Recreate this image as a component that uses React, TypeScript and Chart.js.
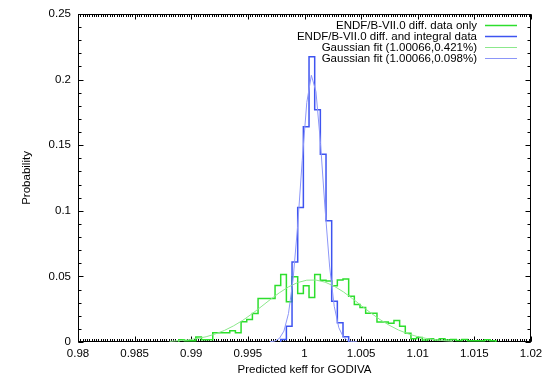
import { useEffect, useRef } from 'react';
import { Chart, registerables } from 'chart.js';

Chart.register(...registerables);

// ---------- data ----------
const X_MIN = 0.98;
const X_MAX = 1.02;
const Y_MIN = 0;
const Y_MAX = 0.25;
const xTickValues = [0.98, 0.985, 0.99, 0.995, 1, 1.005, 1.01, 1.015, 1.02];
const yTickValues = [0, 0.05, 0.1, 0.15, 0.2, 0.25];
const xTitle = 'Predicted keff for GODIVA';
const yTitle = 'Probability';
const seriesLabels = [
  'ENDF/B-VII.0 diff. data only',
  'ENDF/B-VII.0 diff. and integral data',
  'Gaussian fit (1.00066,0.421%)',
  'Gaussian fit (1.00066,0.098%)',
];

const BIN_WIDTH = 0.0005;

// histogram 1 (green): first bin start + probabilities per bin
const greenFirstBin = 0.9889;
const greenProb = [
  0.0018, 0.001, 0.001, 0.0038, 0.0018, 0.0018, 0.007, 0.007, 0.007, 0.0086,
  0.007, 0.0154, 0.0172, 0.0217, 0.0331, 0.0331, 0.0331, 0.043, 0.0515, 0.0306,
  0.0498, 0.037, 0.0428, 0.034, 0.0515, 0.047, 0.0465, 0.0428, 0.0472, 0.048,
  0.0348, 0.0285, 0.0262, 0.022, 0.022, 0.0152, 0.0152, 0.0143, 0.0163, 0.012,
  0.0066, 0.0025, 0.0035, 0.0015, 0.0025, 0.0015, 0.0025, 0.0015, 0.002, 0.0012,
  0.002, 0.001, 0.001, 0.001, 0.0018, 0.001,
];

// histogram 2 (blue)
const blueFirstBin = 0.9979;
const blueProb = [0.002, 0.012, 0.061, 0.1025, 0.164, 0.2174, 0.177, 0.143, 0.0924, 0.031, 0.0146, 0.004];

const greenFitX = [
  0.988081, 0.988889, 0.989697, 0.990505, 0.991313, 0.992121, 0.992929, 0.993737,
  0.994545, 0.995354, 0.996162, 0.99697, 0.997778, 0.998586, 0.999394, 1.000202,
  1.00101, 1.001818, 1.002626, 1.003434, 1.004242, 1.005051, 1.005859, 1.006667,
  1.007475, 1.008283, 1.009091, 1.009899, 1.010707, 1.011515, 1.012323, 1.013131,
];
const greenFitY = [
  0.0005, 0.001, 0.0016, 0.0026, 0.004, 0.0061, 0.0088, 0.0123,
  0.0165, 0.0214, 0.0268, 0.0323, 0.0375, 0.042, 0.0453, 0.0471,
  0.0472, 0.0456, 0.0425, 0.0382, 0.033, 0.0275, 0.0221, 0.0171,
  0.0128, 0.0092, 0.0064, 0.0043, 0.0028, 0.0017, 0.001, 0.0006,
];
const blueFitX = [
  0.99697, 0.997374, 0.997778, 0.998182, 0.998586, 0.99899, 0.999394, 0.999798,
  1.000202, 1.000606, 1.00101, 1.001414, 1.001818, 1.002222, 1.002626, 1.00303,
  1.003434, 1.003838, 1.004242, 1.004646,
];
const blueFitY = [
  0.0002, 0.0007, 0.0027, 0.0083, 0.0217, 0.0476, 0.0883, 0.1382,
  0.1825, 0.2032, 0.1909, 0.1514, 0.1012, 0.0571, 0.0272, 0.0109,
  0.0037, 0.0011, 0.0003, 0.0001,
];

// ---------- styles ----------
const FONT = "'Liberation Sans', Arial, Helvetica, sans-serif";
const FONT_SIZE = 11.5;
const COLORS = ['rgb(45,222,45)', 'rgb(62,84,240)', 'rgb(140,232,140)', 'rgb(140,150,248)'];
const WIDTHS = [1.5, 1.5, 1, 1];

function histPoints(first: number, probs: number[]) {
  const pts: { x: number; y: number }[] = [];
  const edge = (k: number) => +(first + k * BIN_WIDTH).toFixed(6);
  pts.push({ x: edge(0), y: 0 });
  probs.forEach((p, k) => pts.push({ x: edge(k), y: p }));
  pts.push({ x: edge(probs.length), y: 0 });
  return pts;
}

const zip = (xs: number[], ys: number[]) => xs.map((x, i) => ({ x, y: ys[i] }));

const framePlugin = {
  id: 'gpFrame',
  beforeDatasetsDraw(chart: any) {
    const { ctx, chartArea: a, scales } = chart;
    const xs = scales.x;
    const ys = scales.y;
    const L = Math.round(a.left) + 0.5;
    const R = Math.round(a.right) - 0.5;
    const T = Math.round(a.top) + 0.5;
    const B = Math.round(a.bottom) - 0.5;
    ctx.save();
    ctx.strokeStyle = '#000';
    ctx.lineWidth = 1;
    ctx.beginPath();
    for (let k = 0; k <= 200; k++) {
      const v = X_MIN + k * 0.0002;
      const px = Math.round(xs.getPixelForValue(v)) + 0.5;
      ctx.moveTo(px, B); ctx.lineTo(px, B - 2.5);
      ctx.moveTo(px, T); ctx.lineTo(px, T + 2.5);
    }
    xTickValues.forEach((v) => {
      const px = Math.round(xs.getPixelForValue(v)) + 0.5;
      ctx.moveTo(px, B); ctx.lineTo(px, B - 5);
      ctx.moveTo(px, T); ctx.lineTo(px, T + 5);
    });
    for (let k = 0; k <= 25; k++) {
      const v = Y_MIN + k * 0.01;
      const py = Math.round(ys.getPixelForValue(v)) + 0.5;
      ctx.moveTo(L, py); ctx.lineTo(L + 3, py);
      ctx.moveTo(R, py); ctx.lineTo(R - 3, py);
    }
    yTickValues.forEach((v) => {
      const py = Math.round(ys.getPixelForValue(v)) + 0.5;
      ctx.moveTo(L, py); ctx.lineTo(L + 5, py);
      ctx.moveTo(R, py); ctx.lineTo(R - 5, py);
    });
    ctx.stroke();
    ctx.strokeRect(L, T, R - L, B - T);
    ctx.restore();
  },
};

const legendPlugin = {
  id: 'gpLegend',
  afterDraw(chart: any) {
    const { ctx, chartArea: a } = chart;
    ctx.save();
    ctx.font = `${FONT_SIZE}px ${FONT}`;
    ctx.textAlign = 'right';
    ctx.textBaseline = 'middle';
    chart.data.datasets.forEach((ds: any, i: number) => {
      const y = a.top + 11.5 + i * 11;
      ctx.fillStyle = '#000';
      ctx.fillText(ds.label, a.right - 54, y);
      ctx.strokeStyle = ds.borderColor;
      ctx.lineWidth = ds.borderWidth;
      ctx.beginPath();
      ctx.moveTo(a.right - 46, Math.round(y) + 0.5);
      ctx.lineTo(a.right - 14, Math.round(y) + 0.5);
      ctx.stroke();
    });
    ctx.restore();
  },
};

const fmt = (v: any) => String(+(+v).toFixed(4));

export default function App() {
  const ref = useRef<HTMLCanvasElement>(null);
  useEffect(() => {
    const datasets = [
      { label: seriesLabels[0], data: histPoints(greenFirstBin, greenProb), stepped: 'before', order: 4 },
      { label: seriesLabels[1], data: histPoints(blueFirstBin, blueProb), stepped: 'before', order: 3 },
      { label: seriesLabels[2], data: zip(greenFitX, greenFitY), order: 2 },
      { label: seriesLabels[3], data: zip(blueFitX, blueFitY), order: 1 },
    ].map((d, i) => ({
      ...d,
      borderColor: COLORS[i],
      backgroundColor: COLORS[i],
      borderWidth: WIDTHS[i],
      pointRadius: 0,
      fill: false,
      tension: 0,
    }));
    const chart = new Chart(ref.current as HTMLCanvasElement, {
      type: 'line',
      data: { datasets: datasets as any },
      options: {
        animation: false,
        responsive: false,
        maintainAspectRatio: false,
        devicePixelRatio: 1,
        layout: { padding: { left: 0, right: 23, top: 12, bottom: 0 } },
        plugins: { legend: { display: false }, tooltip: { enabled: false } },
        scales: {
          x: {
            type: 'linear',
            min: X_MIN,
            max: X_MAX,
            grid: { display: false, drawTicks: false },
            border: { display: false },
            afterBuildTicks: (s: any) => { s.ticks = xTickValues.map((v) => ({ value: v })); },
            afterFit: (s: any) => { s.height = 36; },
            ticks: {
              autoSkip: false,
              maxRotation: 0,
              padding: 5,
              color: '#000',
              font: { family: FONT, size: FONT_SIZE },
              callback: fmt,
            },
            title: {
              display: true,
              text: xTitle,
              color: '#000',
              font: { family: FONT, size: FONT_SIZE },
              padding: { top: 0, bottom: 1 },
            },
          },
          y: {
            type: 'linear',
            min: Y_MIN,
            max: Y_MAX,
            grid: { display: false, drawTicks: false },
            border: { display: false },
            afterBuildTicks: (s: any) => { s.ticks = yTickValues.map((v) => ({ value: v })); },
            afterFit: (s: any) => { s.width = 78; },
            ticks: {
              autoSkip: false,
              padding: 7,
              color: '#000',
              font: { family: FONT, size: FONT_SIZE },
              callback: fmt,
            },
            title: {
              display: true,
              text: yTitle,
              color: '#000',
              font: { family: FONT, size: FONT_SIZE },
              padding: { top: 20, bottom: 0 },
            },
          },
        },
      },
      plugins: [framePlugin, legendPlugin],
    } as any);
    return () => chart.destroy();
  }, []);
  return (
    <div style={{ position: 'absolute', left: 0, top: 0, width: 554, height: 378, background: '#fff' }}>
      <canvas ref={ref} width={554} height={378} style={{ display: 'block', width: 554, height: 378 }} />
    </div>
  );
}
